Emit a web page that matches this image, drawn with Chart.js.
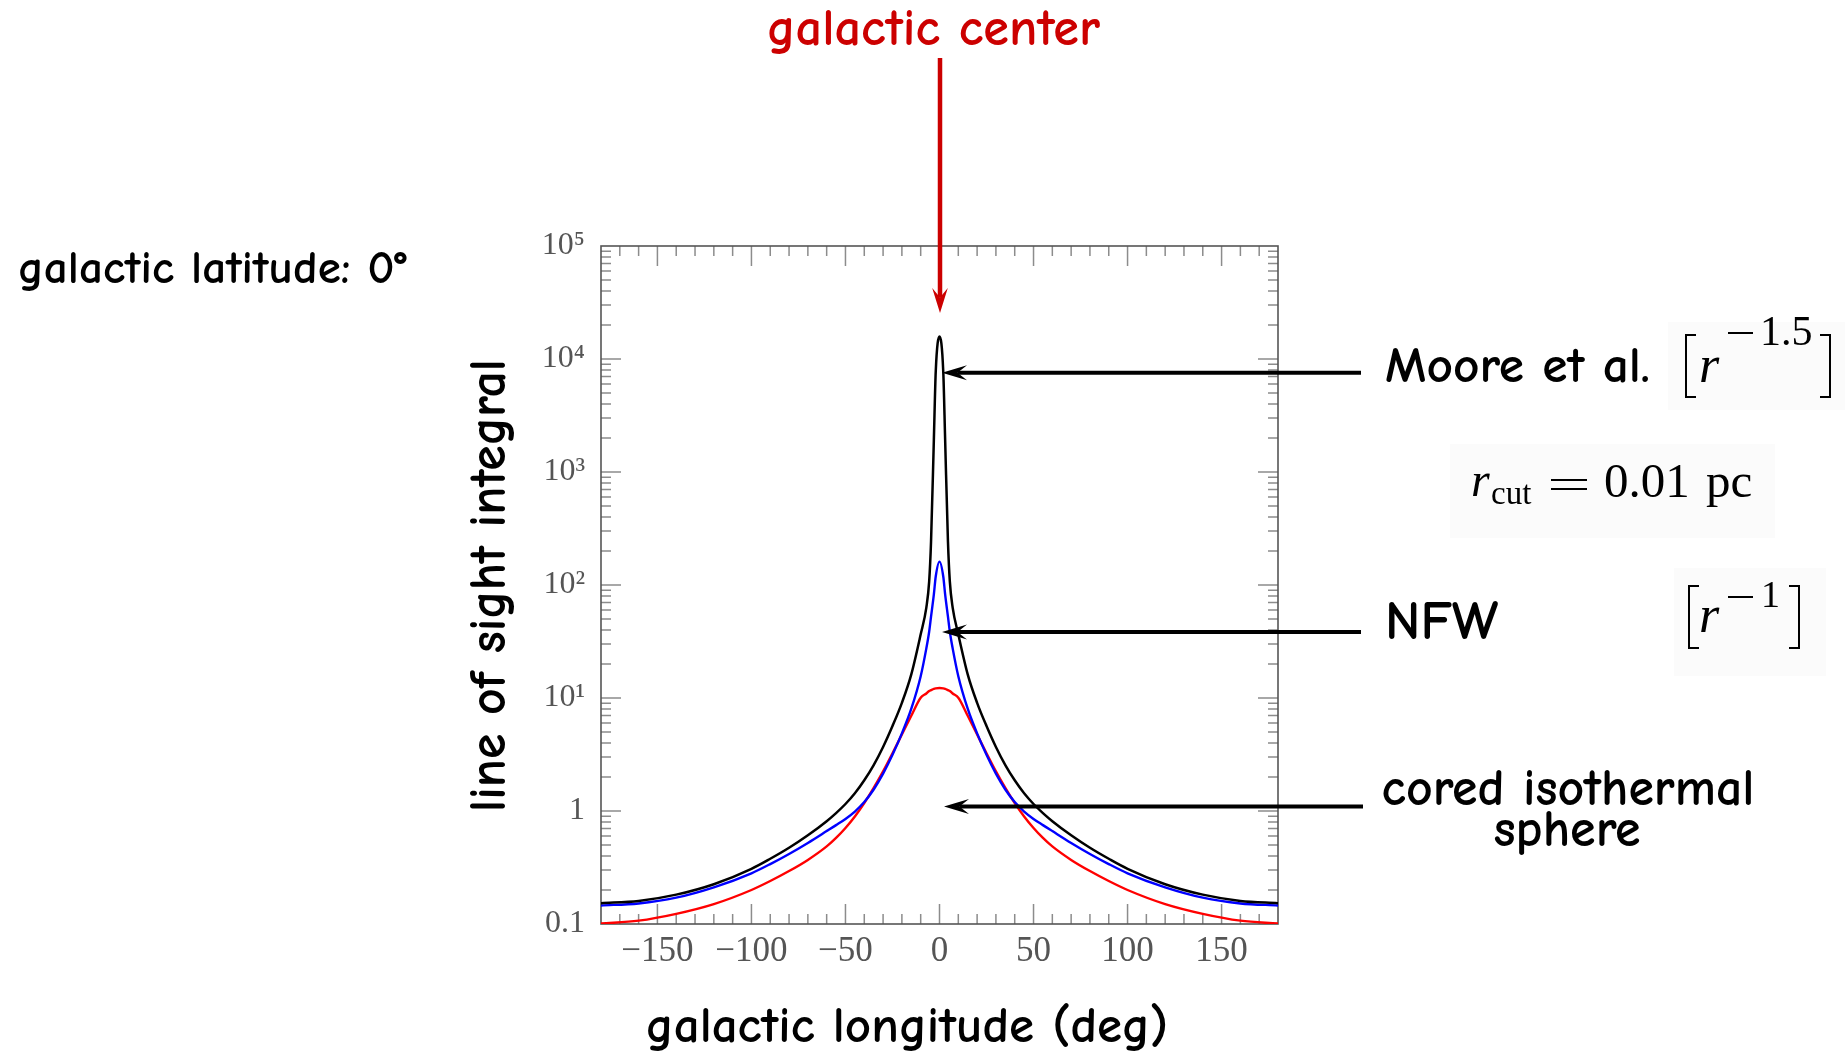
<!DOCTYPE html>
<html>
<head>
<meta charset="utf-8">
<title>Line of sight integral vs galactic longitude</title>
<script src="https://cdn.jsdelivr.net/npm/chart.js@4.4.1/dist/chart.umd.min.js"></script>
<style>
  html, body { margin: 0; padding: 0; background: #fff; }
  #wrap { width: 1845px; height: 1058px; }
</style>
</head>
<body>
<div id="wrap"><canvas id="losChart" width="1845" height="1058"></canvas></div>
<script>
// galactic longitude (deg) of each sample
const LONGITUDES = [-180, -160, -140, -120, -100, -90, -80, -70, -60, -55, -50, -45, -40, -35, -30, -25, -20, -15, -10, -7, -5.5, -4.5, -3, -2,
  0, 2, 3, 4.5, 5.5, 7, 10, 15, 20, 25, 30, 35, 40, 45, 50, 55, 60, 70, 80, 90, 100, 120, 140, 160, 180];

// line of sight integral, galactic latitude 0
const MOORE = [0.153, 0.16, 0.182, 0.225, 0.308, 0.378, 0.473, 0.61, 0.813, 0.959, 1.153, 1.435, 1.87, 2.55, 3.69, 5.65, 9.06, 16.2, 36.6, 63.1, 107, 242, 1930, 7730,
  15800, 7730, 1930, 242, 107, 63.1, 36.6, 16.2, 9.06, 5.65, 3.69, 2.55, 1.87, 1.435, 1.153, 0.959, 0.813, 0.61, 0.473, 0.378, 0.308, 0.225, 0.182, 0.16, 0.153];
const NFW = [0.146, 0.152, 0.171, 0.211, 0.281, 0.339, 0.417, 0.522, 0.664, 0.75, 0.851, 0.989, 1.2, 1.55, 2.14, 3.14, 4.86, 8.04, 15.6, 27.5, 38.6, 52.5, 82.6, 119,
  161, 119, 82.6, 52.5, 38.6, 27.5, 15.6, 8.04, 4.86, 3.14, 2.14, 1.55, 1.2, 0.989, 0.851, 0.75, 0.664, 0.522, 0.417, 0.339, 0.281, 0.211, 0.171, 0.152, 0.146];
const CORED = [0.101, 0.107, 0.123, 0.15, 0.2, 0.24, 0.294, 0.369, 0.486, 0.578, 0.708, 0.895, 1.175, 1.6, 2.24, 3.24, 4.76, 6.97, 10.07, 10.96, 11.53, 11.75, 12.05, 12.16,
  12.25, 12.16, 12.05, 11.75, 11.53, 10.96, 10.07, 6.97, 4.76, 3.24, 2.24, 1.6, 1.175, 0.895, 0.708, 0.578, 0.486, 0.369, 0.294, 0.24, 0.2, 0.15, 0.123, 0.107, 0.101];

const X_TICKS = [-150, -100, -50, 0, 50, 100, 150];
const Y_TICKS = [0.1, 1, 10, 100, 1000, 10000, 100000];
const Y_TICK_LABELS = ['0.1', '1', '10\u00b9', '10\u00b2', '10\u00b3', '10\u2074', '10\u2075'];

const COMIC = '"Comic Sans MS", "Comic Neue", "Open Sans", sans-serif';
const SERIF = '"Liberation Serif", "DejaVu Serif", serif';

function toPoints(values) {
  return LONGITUDES.map((lon, i) => ({ x: lon, y: values[i] }));
}

// text sized so that it spans the given width
function fitText(ctx, text, x, y, width, align, color) {
  ctx.font = `bold 100px ${COMIC}`;
  const size = 100 * width / ctx.measureText(text).width;
  ctx.font = `bold ${size.toFixed(1)}px ${COMIC}`;
  ctx.fillStyle = color || '#000';
  ctx.textAlign = align;
  ctx.textBaseline = 'alphabetic';
  ctx.fillText(text, x, y);
}

function serifText(ctx, text, x, y, size, italic, align) {
  ctx.font = `${italic ? 'italic ' : ''}${size}px ${SERIF}`;
  ctx.fillStyle = '#000';
  ctx.textAlign = align || 'left';
  ctx.textBaseline = 'alphabetic';
  ctx.fillText(text, x, y);
}

// arrow from (x1, y1) to the tip (x2, y2), barbed head
function drawArrow(ctx, x1, y1, x2, y2, color, width, headLen, headHalf) {
  const len = Math.hypot(x2 - x1, y2 - y1);
  const ux = (x2 - x1) / len, uy = (y2 - y1) / len;
  const px = -uy, py = ux;
  const bx = x2 - ux * headLen, by = y2 - uy * headLen;
  const nx = x2 - ux * headLen * 0.62, ny = y2 - uy * headLen * 0.62;
  ctx.save();
  ctx.strokeStyle = color;
  ctx.fillStyle = color;
  ctx.lineWidth = width;
  ctx.beginPath();
  ctx.moveTo(x1, y1);
  ctx.lineTo(nx, ny);
  ctx.stroke();
  ctx.beginPath();
  ctx.moveTo(x2, y2);
  ctx.lineTo(bx + px * headHalf, by + py * headHalf);
  ctx.lineTo(nx, ny);
  ctx.lineTo(bx - px * headHalf, by - py * headHalf);
  ctx.closePath();
  ctx.fill();
  ctx.restore();
}

function bracket(ctx, x, top, bottom, open) {
  const arm = open ? 10 : -10;
  ctx.save();
  ctx.strokeStyle = '#000';
  ctx.lineWidth = 2;
  ctx.beginPath();
  ctx.moveTo(x + arm, top);
  ctx.lineTo(x, top);
  ctx.lineTo(x, bottom);
  ctx.lineTo(x + arm, bottom);
  ctx.stroke();
  ctx.restore();
}

function bar(ctx, x1, x2, y) {
  ctx.fillStyle = '#000';
  ctx.fillRect(x1, y - 1, x2 - x1, 2);
}

const frameTicks = {
  id: 'frameTicks',
  beforeDatasetsDraw(chart) {
    const { ctx, chartArea: a, scales: { x, y } } = chart;
    ctx.save();
    ctx.strokeStyle = '#8c8c8c';
    ctx.lineWidth = 1.5;
    ctx.beginPath();
    for (let v = -170; v <= 170; v += 10) {
      const px = x.getPixelForValue(v);
      const len = v % 50 === 0 ? 20 : 10;
      ctx.moveTo(px, a.bottom);
      ctx.lineTo(px, a.bottom - len);
      ctx.moveTo(px, a.top);
      ctx.lineTo(px, a.top + len);
    }
    for (let d = -1; d <= 4; d++) {
      for (let m = 1; m <= 9; m++) {
        if (d === -1 && m === 1) continue;
        const py = y.getPixelForValue(m * Math.pow(10, d));
        const len = m === 1 ? 20 : 10;
        ctx.moveTo(a.left, py);
        ctx.lineTo(a.left + len, py);
        ctx.moveTo(a.right, py);
        ctx.lineTo(a.right - len, py);
      }
    }
    ctx.stroke();
    ctx.strokeStyle = '#555';
    ctx.lineWidth = 1.6;
    ctx.strokeRect(a.left, a.top, a.width, a.height);
    ctx.restore();
  }
};

const annotations = {
  id: 'annotations',
  afterDraw(chart) {
    const ctx = chart.ctx;
    ctx.save();

    // faint boxes behind the formulas
    ctx.fillStyle = '#fbfbfb';
    ctx.fillRect(1668, 322, 177, 88);
    ctx.fillRect(1450, 444, 325, 94);
    ctx.fillRect(1674, 568, 152, 108);

    // axis titles and free labels
    fitText(ctx, 'galactic longitude (deg)', 907, 1042, 522, 'center');
    ctx.save();
    ctx.translate(505, 585.5);
    ctx.rotate(-Math.PI / 2);
    fitText(ctx, 'line of sight integral', 0, 0, 453, 'center');
    ctx.restore();
    fitText(ctx, 'galactic latitude: 0\u00b0', 18, 283, 389, 'left');
    fitText(ctx, 'galactic center', 933.5, 45, 333, 'center', '#cc0000');

    fitText(ctx, 'Moore et al.', 1385, 382, 265, 'left');
    fitText(ctx, 'NFW', 1385, 639, 113, 'left');
    fitText(ctx, 'cored isothermal', 1568, 805, 373, 'center');
    fitText(ctx, 'sphere', 1567, 846, 147, 'center');

    // [r^-1.5]
    bracket(ctx, 1686, 335, 397, true);
    serifText(ctx, 'r', 1699, 382, 52, true);
    bar(ctx, 1728, 1753, 333);
    serifText(ctx, '1.5', 1760, 345, 42, false);
    bracket(ctx, 1830, 335, 397, false);

    // r_cut = 0.01 pc
    serifText(ctx, 'r', 1471, 496, 48, true);
    serifText(ctx, 'cut', 1491, 504, 33, false);
    bar(ctx, 1551, 1587, 480);
    bar(ctx, 1551, 1587, 489);
    serifText(ctx, '0.01', 1604, 497, 49, false);
    serifText(ctx, 'pc', 1706, 497, 49, false);

    // [r^-1]
    bracket(ctx, 1689, 586, 648, true);
    serifText(ctx, 'r', 1699, 632, 52, true);
    bar(ctx, 1728, 1753, 597);
    serifText(ctx, '1', 1761, 607, 38, false);
    bracket(ctx, 1799, 586, 648, false);

    // arrows
    drawArrow(ctx, 940, 58, 940, 313, '#cc0000', 4.5, 25, 7.8);
    drawArrow(ctx, 1361, 372.7, 942, 372.7, '#000', 4, 25, 7.5);
    drawArrow(ctx, 1361, 632, 942, 632, '#000', 4, 25, 7.5);
    drawArrow(ctx, 1363, 806.5, 944, 806.5, '#000', 4, 25, 7.5);

    ctx.restore();
  }
};

const ctx = document.getElementById('losChart').getContext('2d');

const lineStyle = { pointRadius: 0, fill: false, cubicInterpolationMode: 'monotone' };

new Chart(ctx, {
  type: 'line',
  data: {
    datasets: [
      { label: 'Moore et al.', data: toPoints(MOORE), borderColor: '#000000', borderWidth: 2.5, ...lineStyle },
      { label: 'NFW', data: toPoints(NFW), borderColor: '#0000ff', borderWidth: 2.4, ...lineStyle },
      { label: 'cored isothermal sphere', data: toPoints(CORED), borderColor: '#ff0000', borderWidth: 2.4, ...lineStyle }
    ]
  },
  options: {
    responsive: false,
    animation: false,
    events: [],
    layout: { padding: { left: 501, top: 246, right: 567, bottom: 74 } },
    plugins: {
      legend: { display: false },
      tooltip: { enabled: false }
    },
    scales: {
      x: {
        type: 'linear',
        min: -180,
        max: 180,
        grid: { display: false, drawTicks: false },
        border: { display: false },
        afterBuildTicks(scale) { scale.ticks = X_TICKS.map(v => ({ value: v })); },
        afterFit(scale) { scale.height = 60; },
        ticks: {
          autoSkip: false,
          maxRotation: 0,
          padding: 7,
          color: '#555',
          font: { family: SERIF, size: 35 },
          callback: value => String(value).replace('-', '\u2212')
        }
      },
      y: {
        type: 'logarithmic',
        min: 0.1,
        max: 100000,
        grid: { display: false, drawTicks: false },
        border: { display: false },
        afterBuildTicks(scale) { scale.ticks = Y_TICKS.map(v => ({ value: v })); },
        afterFit(scale) { scale.width = 100; },
        ticks: {
          autoSkip: false,
          padding: 16,
          color: '#555',
          font: { family: SERIF, size: 32 },
          callback: value => {
            const i = Y_TICKS.indexOf(value);
            return i >= 0 ? Y_TICK_LABELS[i] : '';
          }
        }
      }
    }
  },
  plugins: [frameTicks, annotations]
});
</script>
</body>
</html>
